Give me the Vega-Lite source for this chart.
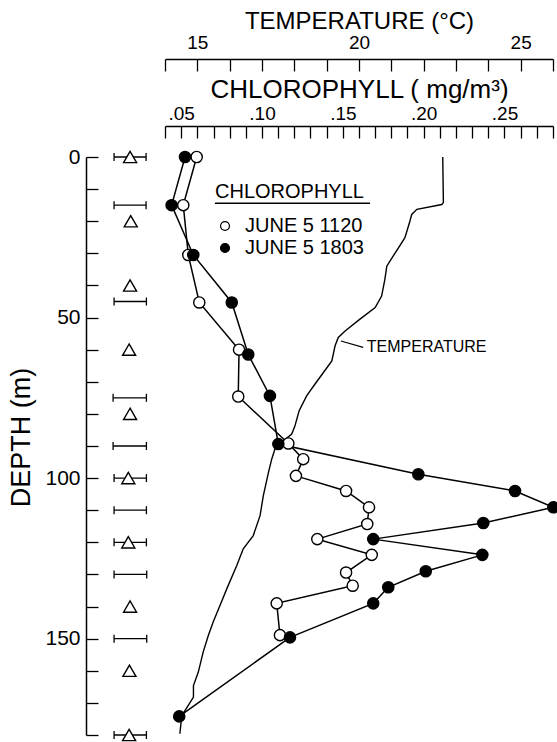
{
  "$schema": "https://vega.github.io/schema/vega-lite/v6.json",
  "width": 388,
  "height": 578,
  "autosize": {"type": "none"},
  "padding": {"left": 165, "top": 157, "right": 4, "bottom": 7},
  "background": "white",
  "config": {
    "view": {"stroke": null},
    "font": "Liberation Sans",
    "axis": {
      "grid": false,
      "domainColor": "black",
      "domainWidth": 1.5,
      "tickColor": "black",
      "tickWidth": 1.3,
      "tickSize": -12,
      "labelColor": "black",
      "titleColor": "black",
      "labelFont": "Liberation Sans",
      "titleFont": "Liberation Sans",
      "titleFontWeight": "normal",
      "labelOverlap": false
    }
  },
  "datasets": {
    "temp": [
      {"depth": 0, "temp": 22.59}, {"depth": 14.2, "temp": 22.61}, {"depth": 14.8, "temp": 22.56},
      {"depth": 16.3, "temp": 21.79}, {"depth": 17.9, "temp": 21.63}, {"depth": 20.5, "temp": 21.56},
      {"depth": 25.1, "temp": 21.42}, {"depth": 28.0, "temp": 21.24}, {"depth": 30.8, "temp": 21.06},
      {"depth": 34.0, "temp": 20.86}, {"depth": 38.1, "temp": 20.80}, {"depth": 43.3, "temp": 20.70},
      {"depth": 46.9, "temp": 20.50}, {"depth": 50.5, "temp": 20.03}, {"depth": 54.2, "temp": 19.57},
      {"depth": 56.2, "temp": 19.36}, {"depth": 58.8, "temp": 19.26}, {"depth": 63.5, "temp": 19.16},
      {"depth": 67.1, "temp": 18.90}, {"depth": 70.7, "temp": 18.64}, {"depth": 74.4, "temp": 18.38},
      {"depth": 79.0, "temp": 18.15}, {"depth": 83.7, "temp": 18.02}, {"depth": 86.3, "temp": 17.92},
      {"depth": 88.4, "temp": 17.66}, {"depth": 89.4, "temp": 17.45}, {"depth": 94.1, "temp": 17.30},
      {"depth": 98.2, "temp": 17.20}, {"depth": 105.5, "temp": 17.04}, {"depth": 111.7, "temp": 16.94},
      {"depth": 117.9, "temp": 16.73}, {"depth": 122.0, "temp": 16.42}, {"depth": 127.2, "temp": 16.22},
      {"depth": 134.5, "temp": 15.91}, {"depth": 139.7, "temp": 15.70}, {"depth": 144.8, "temp": 15.49},
      {"depth": 149.0, "temp": 15.34}, {"depth": 154.2, "temp": 15.18}, {"depth": 160.4, "temp": 15.03},
      {"depth": 164.6, "temp": 14.88}, {"depth": 168.2, "temp": 14.88}, {"depth": 170.8, "temp": 14.72},
      {"depth": 173.9, "temp": 14.52}, {"depth": 179.6, "temp": 14.46}
    ],
    "tlabel": [
      {"label": "TEMPERATURE", "temp": 20.24, "depth": 59.2, "temp2": 19.44, "depth2": 57.3, "temp3": 20.13, "depth3": 59.3}
    ],
    "chl": [
      {"series": "JUNE 5 1120", "depth": 0, "chl": 0.0596},
      {"series": "JUNE 5 1120", "depth": 15, "chl": 0.0513},
      {"series": "JUNE 5 1120", "depth": 30.5, "chl": 0.0544},
      {"series": "JUNE 5 1120", "depth": 45.3, "chl": 0.0612},
      {"series": "JUNE 5 1120", "depth": 60, "chl": 0.0858},
      {"series": "JUNE 5 1120", "depth": 74.6, "chl": 0.0853},
      {"series": "JUNE 5 1120", "depth": 89.2, "chl": 0.1163},
      {"series": "JUNE 5 1120", "depth": 94.1, "chl": 0.1255},
      {"series": "JUNE 5 1120", "depth": 99.3, "chl": 0.1210},
      {"series": "JUNE 5 1120", "depth": 104, "chl": 0.1520},
      {"series": "JUNE 5 1120", "depth": 109.1, "chl": 0.1662},
      {"series": "JUNE 5 1120", "depth": 114.3, "chl": 0.1651},
      {"series": "JUNE 5 1120", "depth": 119, "chl": 0.1342},
      {"series": "JUNE 5 1120", "depth": 123.9, "chl": 0.1679},
      {"series": "JUNE 5 1120", "depth": 129.4, "chl": 0.1520},
      {"series": "JUNE 5 1120", "depth": 133.5, "chl": 0.1561},
      {"series": "JUNE 5 1120", "depth": 139, "chl": 0.1091},
      {"series": "JUNE 5 1120", "depth": 148.9, "chl": 0.1111},
      {"series": "JUNE 5 1803", "depth": 0, "chl": 0.0524},
      {"series": "JUNE 5 1803", "depth": 15, "chl": 0.0441},
      {"series": "JUNE 5 1803", "depth": 30.5, "chl": 0.0575},
      {"series": "JUNE 5 1803", "depth": 45.3, "chl": 0.0813},
      {"series": "JUNE 5 1803", "depth": 61.5, "chl": 0.0915},
      {"series": "JUNE 5 1803", "depth": 74.4, "chl": 0.1049},
      {"series": "JUNE 5 1803", "depth": 89.4, "chl": 0.1101},
      {"series": "JUNE 5 1803", "depth": 98.8, "chl": 0.1967},
      {"series": "JUNE 5 1803", "depth": 104, "chl": 0.2565},
      {"series": "JUNE 5 1803", "depth": 109.1, "chl": 0.2802},
      {"series": "JUNE 5 1803", "depth": 114, "chl": 0.2369},
      {"series": "JUNE 5 1803", "depth": 119, "chl": 0.1688},
      {"series": "JUNE 5 1803", "depth": 123.9, "chl": 0.2363},
      {"series": "JUNE 5 1803", "depth": 129, "chl": 0.2013},
      {"series": "JUNE 5 1803", "depth": 134, "chl": 0.1781},
      {"series": "JUNE 5 1803", "depth": 139, "chl": 0.1688},
      {"series": "JUNE 5 1803", "depth": 149.6, "chl": 0.1173},
      {"series": "JUNE 5 1803", "depth": 174.2, "chl": 0.0488}
    ],
    "tri": [
      {"depth": 0, "chl": 0.0184}, {"depth": 20, "chl": 0.0188}, {"depth": 40, "chl": 0.0184},
      {"depth": 60, "chl": 0.0178}, {"depth": 80, "chl": 0.0184}, {"depth": 100, "chl": 0.0173},
      {"depth": 120, "chl": 0.0173}, {"depth": 140, "chl": 0.0184}, {"depth": 160, "chl": 0.0180},
      {"depth": 180, "chl": 0.0178}
    ],
    "bars": [
      {"depth": 0, "lo": 0.0085, "hi": 0.0283}, {"depth": 15, "lo": 0.0085, "hi": 0.0283},
      {"depth": 45, "lo": 0.0085, "hi": 0.0285}, {"depth": 75, "lo": 0.0079, "hi": 0.0285},
      {"depth": 90, "lo": 0.0079, "hi": 0.0285}, {"depth": 100, "lo": 0.0085, "hi": 0.0285},
      {"depth": 110, "lo": 0.0085, "hi": 0.0285}, {"depth": 120, "lo": 0.0085, "hi": 0.0285},
      {"depth": 130, "lo": 0.0085, "hi": 0.0287}, {"depth": 150, "lo": 0.0085, "hi": 0.0287},
      {"depth": 180, "lo": 0.0085, "hi": 0.0285}
    ],
    "underline": [
      {"chl": 0.0709, "chl2": 0.1668, "depth": 14.4}
    ]
  },
  "resolve": {"scale": {"x": "independent"}},
  "layer": [
    {
      "data": {"name": "temp"},
      "mark": {"type": "line", "color": "black", "strokeWidth": 1.4},
      "encoding": {
        "x": {
          "field": "temp", "type": "quantitative",
          "scale": {"domain": [14, 26], "nice": false, "zero": false},
          "axis": {
            "orient": "top", "offset": 98,
            "values": [14, 15, 16, 17, 18, 19, 20, 21, 22, 23, 24, 25, 26],
            "labelExpr": "datum.value % 5 === 0 ? datum.label : ''",
            "labelFontSize": 19, "labelPadding": 19, "labelFlush": false, "labelOverlap": false,
            "title": "TEMPERATURE (°C)", "titleFontSize": 24, "titlePadding": 0
          }
        },
        "y": {
          "field": "depth", "type": "quantitative", "title": "DEPTH (m)",
          "scale": {"domain": [0, 180], "reverse": true, "nice": false, "zero": false},
          "axis": {"orient": "left", "offset": 79, "values": [0, 10, 20, 30, 40, 50, 60, 70, 80, 90, 100, 110, 120, 130, 140, 150, 160, 170, 180], "labelExpr": "datum.value % 50 === 0 ? datum.label : ''", "labelFontSize": 21, "labelPadding": 18, "labelOverlap": false, "title": "DEPTH (m)", "titleFontSize": 27, "titlePadding": 9, "titleY": 280}
        },
        "order": {"field": "depth", "type": "quantitative"}
      }
    },
    {
      "data": {"name": "tlabel"},
      "mark": {"type": "text", "align": "left", "baseline": "middle", "fontSize": 16, "color": "black"},
      "encoding": {
        "x": {"field": "temp", "type": "quantitative", "scale": {"domain": [14, 26], "nice": false, "zero": false}, "axis": null},
        "y": {
          "field": "depth", "type": "quantitative", "title": "DEPTH (m)",
          "scale": {"domain": [0, 180], "reverse": true, "nice": false, "zero": false},
          "axis": {"orient": "left", "offset": 79, "values": [0, 10, 20, 30, 40, 50, 60, 70, 80, 90, 100, 110, 120, 130, 140, 150, 160, 170, 180], "labelExpr": "datum.value % 50 === 0 ? datum.label : ''", "labelFontSize": 21, "labelPadding": 18, "labelOverlap": false, "title": "DEPTH (m)", "titleFontSize": 27, "titlePadding": 9, "titleY": 280}
        },
        "text": {"field": "label"}
      }
    },
    {
      "data": {"name": "tlabel"},
      "mark": {"type": "rule", "color": "black", "strokeWidth": 1.2},
      "encoding": {
        "x": {"field": "temp2", "type": "quantitative", "scale": {"domain": [14, 26], "nice": false, "zero": false}, "axis": null},
        "y": {
          "field": "depth2", "type": "quantitative", "title": "DEPTH (m)",
          "scale": {"domain": [0, 180], "reverse": true, "nice": false, "zero": false},
          "axis": {"orient": "left", "offset": 79, "values": [0, 10, 20, 30, 40, 50, 60, 70, 80, 90, 100, 110, 120, 130, 140, 150, 160, 170, 180], "labelExpr": "datum.value % 50 === 0 ? datum.label : ''", "labelFontSize": 21, "labelPadding": 18, "labelOverlap": false, "title": "DEPTH (m)", "titleFontSize": 27, "titlePadding": 9, "titleY": 280}
        },
        "x2": {"field": "temp3"},
        "y2": {"field": "depth3"}
      }
    },
    {
      "data": {"name": "chl"},
      "mark": {"type": "line", "color": "black", "strokeWidth": 1.5},
      "encoding": {
        "x": {
          "field": "chl", "type": "quantitative",
          "scale": {"domain": [0.04, 0.28], "nice": false, "zero": false},
          "axis": {
            "orient": "top", "offset": 31,
            "values": [0.04, 0.05, 0.06, 0.07, 0.08, 0.09, 0.10, 0.11, 0.12, 0.13, 0.14, 0.15, 0.16, 0.17, 0.18, 0.19, 0.20, 0.21, 0.22, 0.23, 0.24, 0.25, 0.26, 0.27, 0.28],
            "labelExpr": "(abs(datum.value*20 - round(datum.value*20)) < 0.01 && datum.value > 0.045 && datum.value < 0.27) ? slice(format(datum.value, '.2f'), 1) : ''",
            "labelFontSize": 19, "labelPadding": 15, "labelFlush": false, "labelOverlap": false,
            "title": "CHLOROPHYLL ( mg/m³)", "titleFontSize": 26, "titlePadding": 2
          }
        },
        "y": {
          "field": "depth", "type": "quantitative", "title": "DEPTH (m)",
          "scale": {"domain": [0, 180], "reverse": true, "nice": false, "zero": false},
          "axis": {"orient": "left", "offset": 79, "values": [0, 10, 20, 30, 40, 50, 60, 70, 80, 90, 100, 110, 120, 130, 140, 150, 160, 170, 180], "labelExpr": "datum.value % 50 === 0 ? datum.label : ''", "labelFontSize": 21, "labelPadding": 18, "labelOverlap": false, "title": "DEPTH (m)", "titleFontSize": 27, "titlePadding": 9, "titleY": 280}
        },
        "detail": {"field": "series"},
        "order": {"field": "depth", "type": "quantitative"}
      }
    },
    {
      "data": {"name": "bars"},
      "mark": {"type": "rule", "color": "black", "strokeWidth": 1.3},
      "encoding": {
        "x": {"field": "lo", "type": "quantitative", "scale": {"domain": [0.04, 0.28], "nice": false, "zero": false}, "axis": null},
        "x2": {"field": "hi"},
        "y": {
          "field": "depth", "type": "quantitative", "title": "DEPTH (m)",
          "scale": {"domain": [0, 180], "reverse": true, "nice": false, "zero": false},
          "axis": {"orient": "left", "offset": 79, "values": [0, 10, 20, 30, 40, 50, 60, 70, 80, 90, 100, 110, 120, 130, 140, 150, 160, 170, 180], "labelExpr": "datum.value % 50 === 0 ? datum.label : ''", "labelFontSize": 21, "labelPadding": 18, "labelOverlap": false, "title": "DEPTH (m)", "titleFontSize": 27, "titlePadding": 9, "titleY": 280}
        }
      }
    },
    {
      "data": {"name": "bars"},
      "mark": {"type": "tick", "orient": "vertical", "size": 8, "thickness": 1.3, "color": "black", "opacity": 1},
      "encoding": {
        "x": {"field": "lo", "type": "quantitative", "scale": {"domain": [0.04, 0.28], "nice": false, "zero": false}, "axis": null},
        "y": {
          "field": "depth", "type": "quantitative", "title": "DEPTH (m)",
          "scale": {"domain": [0, 180], "reverse": true, "nice": false, "zero": false},
          "axis": {"orient": "left", "offset": 79, "values": [0, 10, 20, 30, 40, 50, 60, 70, 80, 90, 100, 110, 120, 130, 140, 150, 160, 170, 180], "labelExpr": "datum.value % 50 === 0 ? datum.label : ''", "labelFontSize": 21, "labelPadding": 18, "labelOverlap": false, "title": "DEPTH (m)", "titleFontSize": 27, "titlePadding": 9, "titleY": 280}
        }
      }
    },
    {
      "data": {"name": "bars"},
      "mark": {"type": "tick", "orient": "vertical", "size": 8, "thickness": 1.3, "color": "black", "opacity": 1},
      "encoding": {
        "x": {"field": "hi", "type": "quantitative", "scale": {"domain": [0.04, 0.28], "nice": false, "zero": false}, "axis": null},
        "y": {
          "field": "depth", "type": "quantitative", "title": "DEPTH (m)",
          "scale": {"domain": [0, 180], "reverse": true, "nice": false, "zero": false},
          "axis": {"orient": "left", "offset": 79, "values": [0, 10, 20, 30, 40, 50, 60, 70, 80, 90, 100, 110, 120, 130, 140, 150, 160, 170, 180], "labelExpr": "datum.value % 50 === 0 ? datum.label : ''", "labelFontSize": 21, "labelPadding": 18, "labelOverlap": false, "title": "DEPTH (m)", "titleFontSize": 27, "titlePadding": 9, "titleY": 280}
        }
      }
    },
    {
      "data": {"name": "tri"},
      "mark": {"type": "point", "shape": "triangle-up", "size": 170, "filled": true, "fill": "white", "stroke": "black", "strokeWidth": 1.4, "opacity": 1},
      "encoding": {
        "x": {"field": "chl", "type": "quantitative", "scale": {"domain": [0.04, 0.28], "nice": false, "zero": false}, "axis": null},
        "y": {
          "field": "depth", "type": "quantitative", "title": "DEPTH (m)",
          "scale": {"domain": [0, 180], "reverse": true, "nice": false, "zero": false},
          "axis": {"orient": "left", "offset": 79, "values": [0, 10, 20, 30, 40, 50, 60, 70, 80, 90, 100, 110, 120, 130, 140, 150, 160, 170, 180], "labelExpr": "datum.value % 50 === 0 ? datum.label : ''", "labelFontSize": 21, "labelPadding": 18, "labelOverlap": false, "title": "DEPTH (m)", "titleFontSize": 27, "titlePadding": 9, "titleY": 280}
        }
      }
    },
    {
      "data": {"name": "underline"},
      "mark": {"type": "rule", "color": "black", "strokeWidth": 1.5},
      "encoding": {
        "x": {"field": "chl", "type": "quantitative", "scale": {"domain": [0.04, 0.28], "nice": false, "zero": false}, "axis": null},
        "x2": {"field": "chl2"},
        "y": {
          "field": "depth", "type": "quantitative", "title": "DEPTH (m)",
          "scale": {"domain": [0, 180], "reverse": true, "nice": false, "zero": false},
          "axis": {"orient": "left", "offset": 79, "values": [0, 10, 20, 30, 40, 50, 60, 70, 80, 90, 100, 110, 120, 130, 140, 150, 160, 170, 180], "labelExpr": "datum.value % 50 === 0 ? datum.label : ''", "labelFontSize": 21, "labelPadding": 18, "labelOverlap": false, "title": "DEPTH (m)", "titleFontSize": 27, "titlePadding": 9, "titleY": 280}
        }
      }
    },
    {
      "data": {"name": "chl"},
      "mark": {"type": "point", "shape": "circle", "size": 125, "filled": true, "stroke": "black", "strokeWidth": 1.4, "opacity": 1},
      "encoding": {
        "x": {"field": "chl", "type": "quantitative", "scale": {"domain": [0.04, 0.28], "nice": false, "zero": false}, "axis": null},
        "y": {
          "field": "depth", "type": "quantitative", "title": "DEPTH (m)",
          "scale": {"domain": [0, 180], "reverse": true, "nice": false, "zero": false},
          "axis": {"orient": "left", "offset": 79, "values": [0, 10, 20, 30, 40, 50, 60, 70, 80, 90, 100, 110, 120, 130, 140, 150, 160, 170, 180], "labelExpr": "datum.value % 50 === 0 ? datum.label : ''", "labelFontSize": 21, "labelPadding": 18, "labelOverlap": false, "title": "DEPTH (m)", "titleFontSize": 27, "titlePadding": 9, "titleY": 280}
        },
        "fill": {
          "field": "series", "type": "nominal",
          "scale": {"domain": ["JUNE 5 1120", "JUNE 5 1803"], "range": ["white", "black"]},
          "legend": {
            "orient": "none", "legendX": 50, "legendY": 25, "padding": 0,
            "title": "CHLOROPHYLL", "titleFontSize": 20, "titleFontWeight": "normal", "titleColor": "black",
            "titleFont": "Liberation Sans", "titlePadding": 14,
            "labelFontSize": 20, "labelColor": "black", "labelFont": "Liberation Sans", "labelOffset": 10,
            "symbolType": "circle", "symbolSize": 80, "symbolStrokeColor": "black", "symbolStrokeWidth": 1.2,
            "rowPadding": 2
          }
        }
      }
    }
  ]
}
